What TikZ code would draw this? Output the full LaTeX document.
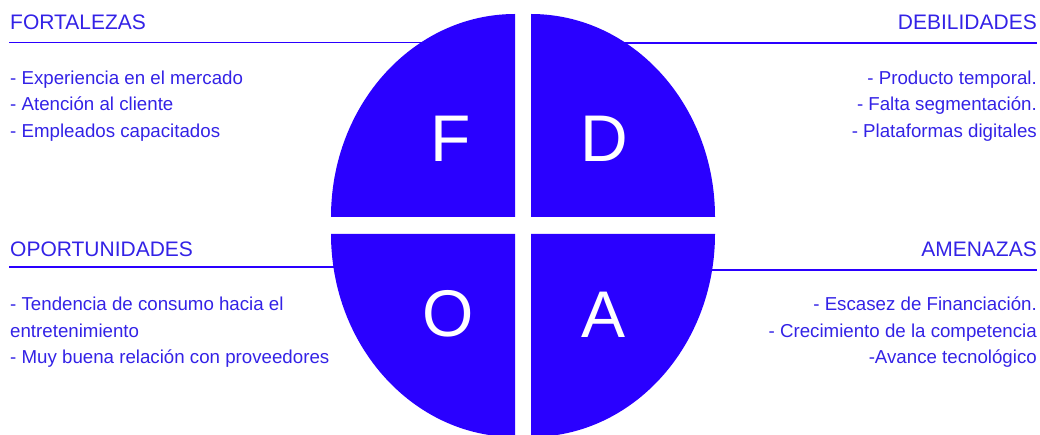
\documentclass[tikz,border=0pt]{standalone}
\usepackage{fontspec}
\setmainfont{Liberation Sans}
\usetikzlibrary{positioning}
\definecolor{Swot}{HTML}{2A00FF}
\definecolor{Ink}{HTML}{3322E6}
\tikzset{
  quad/.style={fill=Swot},
  rule/.style={draw=Swot, line width=1.8pt},
  head/.style={text=Ink, font=\fontsize{21}{25}\selectfont, inner sep=0pt},
  item/.style={text=Ink, font=\fontsize{18.7}{27}\selectfont, inner sep=0pt},
  letter/.style={text=white, font=\fontsize{66}{70}\selectfont, inner sep=0pt},
}
\begin{document}
\begin{tikzpicture}[x=1pt, y=1pt]
  \useasboundingbox (0,0) rectangle (1040,434);
  \clip (0,0) rectangle (1040,434);

  % rules under the headings
  \draw[rule] (9,391.5) -- (515,391.5);
  \draw[rule] (531,391) -- (1037,391);
  \draw[rule] (9,167) -- (515,167);
  \draw[rule] (531,164) -- (1037,164);

  % the four quarters
  \fill[quad] (515,217) -- ++(-184,0) arc[start angle=180, end angle=90, x radius=184, y radius=203] -- cycle;
  \fill[quad] (531,217) -- ++(0,203) arc[start angle=90, end angle=0, x radius=184, y radius=203] -- cycle;
  \fill[quad] (515,200) -- ++(-184,0) arc[start angle=180, end angle=270, x radius=184, y radius=203] -- cycle;
  \fill[quad] (531,200) -- ++(184,0) arc[start angle=0, end angle=-90, x radius=184, y radius=203] -- cycle;

  \node[letter] (f) at (451,295) {F};
  \node[letter] (d) at (604,295) {D};
  \node[letter] (o) at (448,120) {O};
  \node[letter] (a) at (604,119) {A};

  % headings
  \node[head, anchor=base west] (fort) at (10,404.5) {FORTALEZAS};
  \node[head, anchor=base east] (debi) at (1037,404.5) {DEBILIDADES};
  \node[head, anchor=base west] (opor) at (10,178) {OPORTUNIDADES};
  \node[head, anchor=base east] (amen) at (1037,178) {AMENAZAS};

  % lists
  \node[item, anchor=base west] (f1) at (10,349.5) {- Experiencia en el mercado};
  \node[item, anchor=base west] (f2) at (10,323) {- Atención al cliente};
  \node[item, anchor=base west] (f3) at (10,296) {- Empleados capacitados};

  \node[item, anchor=base east] (d1) at (1037,349.5) {- Producto temporal.};
  \node[item, anchor=base east] (d2) at (1037,323) {- Falta segmentación.};
  \node[item, anchor=base east] (d3) at (1037,296) {- Plataformas digitales};

  \node[item, anchor=base west] (o1) at (10,123.5) {- Tendencia de consumo hacia el};
  \node[item, anchor=base west] (o2) at (10,97) {entretenimiento};
  \node[item, anchor=base west] (o3) at (10,71) {- Muy buena relación con proveedores};

  \node[item, anchor=base east] (a1) at (1037,124) {- Escasez de Financiación.};
  \node[item, anchor=base east] (a2) at (1037,97) {- Crecimiento de la competencia};
  \node[item, anchor=base east] (a3) at (1037,71) {-Avance tecnológico};
\end{tikzpicture}
\end{document}
